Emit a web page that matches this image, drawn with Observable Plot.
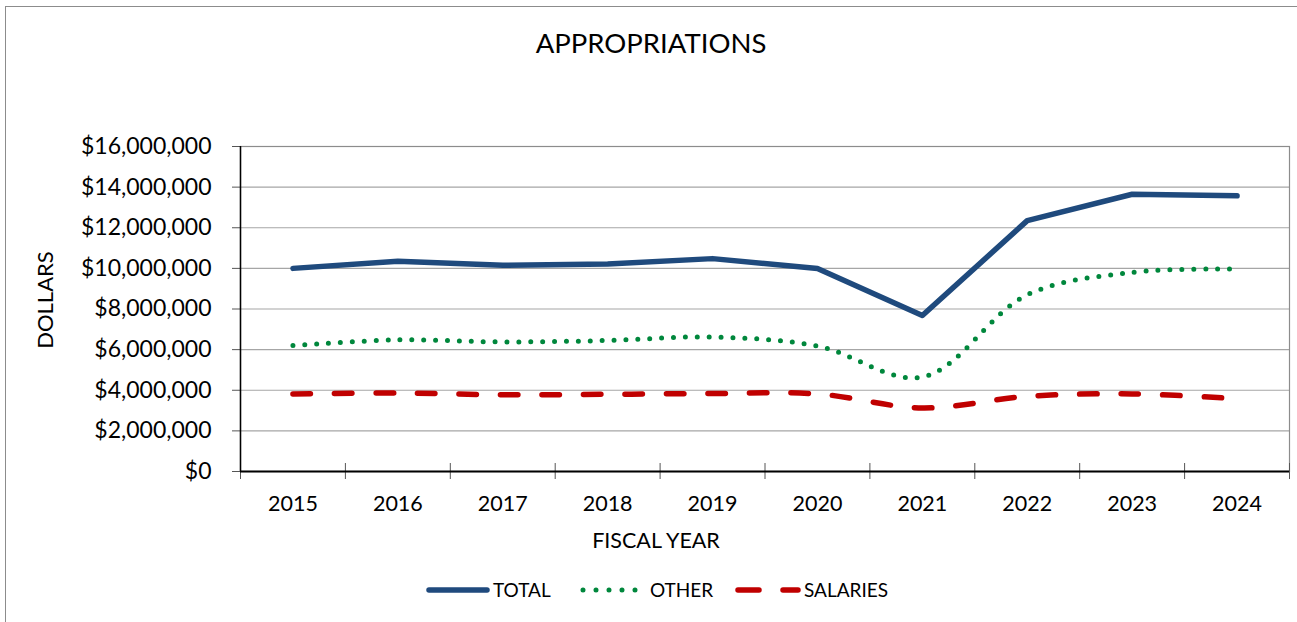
<!DOCTYPE html>
<html>
<head>
<meta charset="utf-8">
<script src="https://cdn.jsdelivr.net/npm/d3@7"></script>
<script src="https://cdn.jsdelivr.net/npm/@observablehq/plot@0.6"></script>
<style>
  html, body { margin: 0; padding: 0; background: #fff; }
  #wrap { position: relative; width: 1297px; height: 622px; overflow: hidden; font-family: Lato, "Open Sans", sans-serif; color: #000; }
  #border { position: absolute; left: 5px; top: 6px; width: 1400px; height: 700px; border-top: 1px solid #8c8c8c; border-left: 1px solid #8c8c8c; }
  #title { position: absolute; left: 651px; top: 26px; transform: translateX(-50%); font-size: 27.5px; white-space: nowrap; }
  #ylab { position: absolute; left: 44px; top: 300px; transform: translate(-50%, -50%) rotate(-90deg); font-size: 22px; white-space: nowrap; }
  #xlab { position: absolute; left: 656px; top: 527px; transform: translateX(-50%); font-size: 21.5px; white-space: nowrap; }
  #chart { position: absolute; left: 0; top: 0; }
  #legend { position: absolute; left: 0; top: 576px; width: 1297px; height: 28px; }
</style>
</head>
<body>
<div id="wrap">
  <div id="border"></div>
  <div id="chart"></div>
  <div id="title"></div>
  <div id="ylab"></div>
  <div id="xlab"></div>
  <div id="legend"></div>
</div>
<script>
const titleText = "APPROPRIATIONS";
const yAxisTitle = "DOLLARS";
const xAxisTitle = "FISCAL YEAR";
const years = [2015, 2016, 2017, 2018, 2019, 2020, 2021, 2022, 2023, 2024];
const total    = [10000000, 10350000, 10150000, 10220000, 10480000, 9990000, 7680000, 12350000, 13650000, 13570000];
const other    = [6200000, 6480000, 6380000, 6450000, 6620000, 6180000, 4650000, 8700000, 9800000, 9970000];
const salaries = [3820000, 3860000, 3780000, 3800000, 3840000, 3820000, 3130000, 3700000, 3820000, 3580000];
const yTicks = [0, 2000000, 4000000, 6000000, 8000000, 10000000, 12000000, 14000000, 16000000];
const seriesNames = ["TOTAL", "OTHER", "SALARIES"];

const colTotal = "#1F4A7D", colOther = "#00873C", colSal = "#C00000";

const rows = (vals) => years.map((y, i) => ({year: y, value: vals[i]}));
const edges = years.map(y => y - 0.5).concat([years[years.length - 1] + 0.5]);

document.getElementById("title").textContent = titleText;
document.getElementById("ylab").textContent = yAxisTitle;
document.getElementById("xlab").textContent = xAxisTitle;

const chart = Plot.plot({
  width: 1297,
  height: 622,
  marginLeft: 240,
  marginRight: 8,
  marginTop: 146,
  marginBottom: 151,
  style: {fontFamily: "Lato, 'Open Sans', sans-serif", background: "transparent", color: "#000"},
  x: {type: "linear", domain: [edges[0], edges[edges.length - 1]]},
  y: {type: "linear", domain: [0, 16000000]},
  marks: [
    Plot.gridY(yTicks, {stroke: "#a6a6a6", strokeOpacity: 1, strokeWidth: 1.2}),
    Plot.frame({stroke: "#8c8c8c", strokeWidth: 1.2}),
    Plot.axisY({ticks: yTicks, tickSize: 8, tickPadding: 21, tickFormat: d3.format("$,"), fontSize: 23, stroke: "#555", label: null}),
    Plot.axisX({ticks: edges, tickSize: 16, dy: -8, tickFormat: () => "", stroke: "#555", label: null}),
    Plot.axisX({ticks: years, tickSize: 0, tickPadding: 24, tickFormat: d => String(d), fontSize: 21.5, label: null}),
    Plot.ruleX([edges[0]], {stroke: "#000", strokeWidth: 1.5}),
    Plot.ruleY([0], {stroke: "#000", strokeWidth: 2.2}),
    Plot.line(rows(salaries), {x: "year", y: "value", stroke: colSal, strokeWidth: 5.5, strokeLinecap: "round", strokeDasharray: "17.5 24", curve: "catmull-rom"}),
    Plot.line(rows(other), {x: "year", y: "value", stroke: colOther, strokeWidth: 5, strokeLinecap: "round", strokeDasharray: "0 11.9", curve: "catmull-rom"}),
    Plot.line(rows(total), {x: "year", y: "value", stroke: colTotal, strokeWidth: 5.5, strokeLinecap: "round", strokeLinejoin: "round"})
  ]
});
document.getElementById("chart").appendChild(chart);

// legend
const legendItems = [
  {name: seriesNames[0], color: colTotal, dash: null, w: 5.5, x1: 429, x2: 487, tx: 493},
  {name: seriesNames[1], color: colOther, dash: "0 13", w: 5, x1: 583, x2: 637, tx: 650},
  {name: seriesNames[2], color: colSal, dash: "21 24", w: 5.5, x1: 738, x2: 798, tx: 804}
];
const ns = "http://www.w3.org/2000/svg";
const lsvg = document.createElementNS(ns, "svg");
lsvg.setAttribute("width", 1297);
lsvg.setAttribute("height", 28);
for (const it of legendItems) {
  const ln = document.createElementNS(ns, "line");
  ln.setAttribute("x1", it.x1); ln.setAttribute("x2", it.x2);
  ln.setAttribute("y1", 14); ln.setAttribute("y2", 14);
  ln.setAttribute("stroke", it.color);
  ln.setAttribute("stroke-width", it.w);
  ln.setAttribute("stroke-linecap", "round");
  if (it.dash) ln.setAttribute("stroke-dasharray", it.dash);
  lsvg.appendChild(ln);
  const t = document.createElementNS(ns, "text");
  t.setAttribute("x", it.tx); t.setAttribute("y", 20.5);
  t.setAttribute("font-size", 19);
  t.setAttribute("font-family", "Lato, 'Open Sans', sans-serif");
  t.setAttribute("fill", "#000");
  t.textContent = it.name;
  lsvg.appendChild(t);
}
document.getElementById("legend").appendChild(lsvg);
</script>
</body>
</html>
